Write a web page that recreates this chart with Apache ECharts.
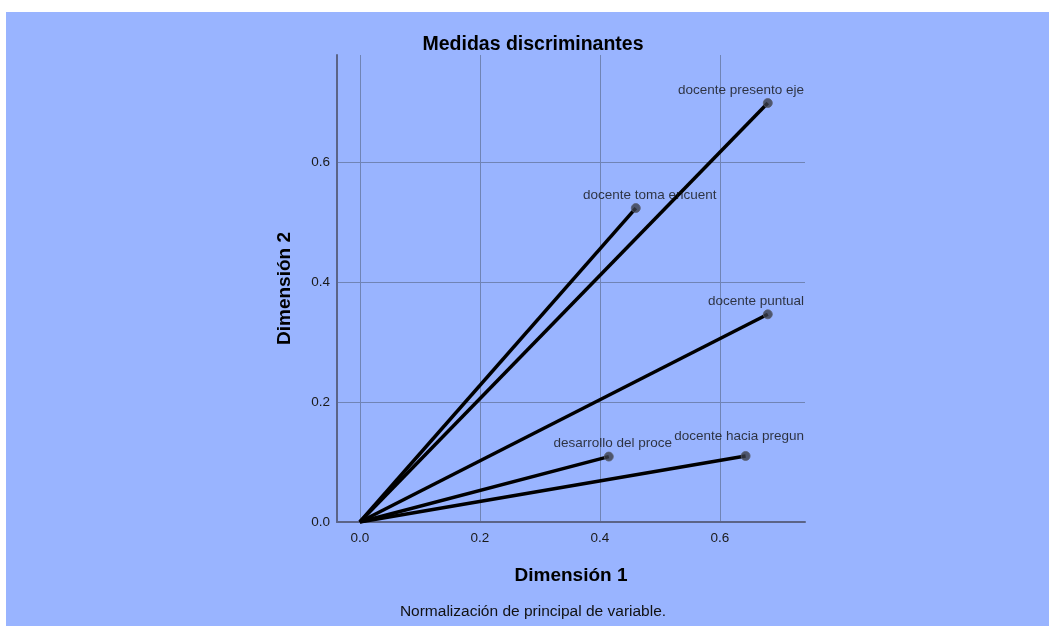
<!DOCTYPE html>
<html>
<head>
<meta charset="utf-8">
<script src="https://cdn.jsdelivr.net/npm/echarts@6/dist/echarts.min.js"></script>
<style>
  html, body { margin: 0; padding: 0; background: #fff; }
  #chart { width: 1049px; height: 626px; }
</style>
</head>
<body>
<div id="chart"></div>
<script>
var myChart = echarts.init(document.getElementById('chart'));

// variables and their discrimination measures
var variables = ['docente presento eje', 'docente toma encuent', 'docente puntual', 'desarrollo del proce', 'docente hacia pregun'];
var dim1 = [0.680, 0.460, 0.680, 0.415, 0.643];
var dim2 = [0.698, 0.523, 0.346, 0.109, 0.110];
var xRange = [-0.038, 0.742];
var yRange = [0, 0.778];

var font = "'Liberation Sans', Arial, sans-serif";
// small label shifts like the original (avoid overlaps)
var labelNudgeX = [0, 14, 0, 4, 0];
var labelNudgeY = [0, 0, 0, 0, -7];

var series = [];
variables.forEach(function (name, i) {
    series.push({
        type: 'line',
        name: name,
        data: [[0, 0], [dim1[i], dim2[i]]],
        symbol: 'none',
        lineStyle: { color: '#000', width: 3.5 },
        z: 2
    });
});
series.push({
    type: 'scatter',
    data: variables.map(function (name, i) { return { name: name, value: [dim1[i], dim2[i]] }; }),
    symbolSize: 9,
    itemStyle: { color: '#3a3d48', borderColor: '#5a5f70', borderWidth: 1 },
    label: {
        show: true,
        position: 'top',
        distance: 1,
        formatter: '{b}',
        fontFamily: font,
        fontSize: 13.5,
        color: '#111'
    },
    labelLayout: function (params) {
        var r = params.labelRect;
        var i = params.dataIndex;
        return {
            dx: Math.min(labelNudgeX[i] || 0, 804 - (r.x + r.width)),
            dy: labelNudgeY[i] || 0
        };
    },
    z: 3
});

var option = {
    animation: false,
    backgroundColor: '#fff',
    graphic: [
        { type: 'rect', shape: { x: 6, y: 12, width: 1043, height: 614 }, style: { fill: '#99b4ff' }, z: -10 },
        { type: 'text', x: 533, y: 612, style: { text: 'Normalización de principal de variable.', font: '15.5px ' + font, fill: '#111', align: 'center', verticalAlign: 'middle' } }
    ],
    title: {
        text: 'Medidas discriminantes',
        left: 528,
        top: 30,
        textAlign: 'center',
        textStyle: { fontFamily: font, fontSize: 19.5, fontWeight: 'bold', color: '#000' }
    },
    grid: { left: 337, right: 244, top: 55, bottom: 104, containLabel: false },
    xAxis: {
        type: 'value',
        min: xRange[0],
        max: xRange[1],
        name: 'Dimensión 1',
        nameLocation: 'middle',
        nameGap: 44,
        nameTextStyle: { fontFamily: font, fontSize: 19, fontWeight: 'bold', color: '#000' },
        axisLine: { onZero: false, lineStyle: { color: '#5b6487', width: 2 } },
        axisTick: { show: false },
        axisLabel: {
            showMinLabel: false, showMaxLabel: false, margin: 9,
            fontFamily: font, fontSize: 13.5, color: '#1a1a1a',
            formatter: function (v) { return v.toFixed(1); }
        },
        splitLine: { show: true, showMaxLine: false, lineStyle: { color: '#7084b5', width: 1 } }
    },
    yAxis: {
        type: 'value',
        min: yRange[0],
        max: yRange[1],
        name: 'Dimensión 2',
        nameLocation: 'middle',
        nameGap: 43,
        nameTextStyle: { fontFamily: font, fontSize: 19, fontWeight: 'bold', color: '#000' },
        axisLine: { show: true, onZero: false, lineStyle: { color: '#5b6487', width: 2 } },
        axisTick: { show: false },
        axisLabel: {
            showMaxLabel: false, margin: 7,
            fontFamily: font, fontSize: 13.5, color: '#1a1a1a',
            formatter: function (v) { return v.toFixed(1); }
        },
        splitLine: { show: true, showMaxLine: false, lineStyle: { color: '#7084b5', width: 1 } }
    },
    series: series
};

myChart.setOption(option);
</script>
</body>
</html>
